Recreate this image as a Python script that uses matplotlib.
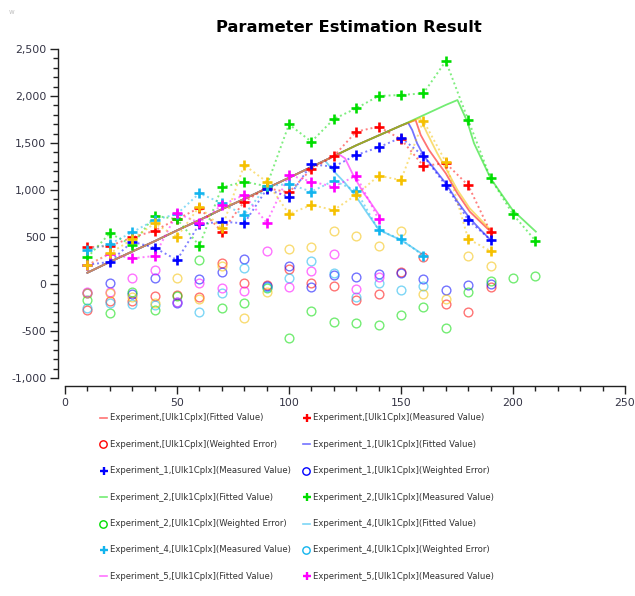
import matplotlib
matplotlib.use("Agg")
import matplotlib.pyplot as plt
from matplotlib.lines import Line2D
from matplotlib.ticker import MultipleLocator, FuncFormatter

# ---- sample times ---------------------------------------------------------
T19 = [10, 20, 30, 40, 50, 60, 70, 80, 90, 100, 110, 120, 130, 140, 150, 160, 170, 180, 190]
T21 = T19 + [200, 210]
T16 = T19[:16]
T14 = T19[:14]

# ---- measured values ------------------------------------------------------
meas_exp = [390, 405, 495, 567, 690, 810, 557, 876, 1020, 975, 1223, 1360, 1621, 1674, 1540, 1257, 1285, 1050, 550]
meas_exp1 = [205, 235, 450, 386, 255, 638, 663, 645, 1007, 929, 1273, 1248, 1372, 1454, 1557, 1362, 1050, 681, 468]
meas_exp2 = [284, 539, 415, 727, 690, 408, 1028, 1089, 1040, 1699, 1514, 1755, 1869, 2000, 2011, 2028, 2372, 1745, 1124, 741, 461]
meas_exp4 = [362, 425, 550, 681, 745, 965, 860, 734, 1040, 1064, 982, 1099, 992, 574, 475, 301]
meas_exp5 = [200, 320, 273, 298, 752, 652, 840, 947, 652, 1160, 1089, 1035, 1152, 688]
meas_exp3 = [202, 326, 475, 645, 503, 823, 592, 1266, 1089, 745, 840, 787, 947, 1152, 1106, 1737, 1298, 479, 351]

# ---- weighted errors ------------------------------------------------------
err_exp = [-275, -181, -177, -126, -120, -140, 227, 7, -11, 160, 14, -21, -170, -106, 131, 291, -213, -294, -35]
err_exp1 = [-95, 7, -110, 60, -200, 56, 124, 262, -21, 191, -35, 92, 78, 106, 120, 53, -64, -14, 0]
err_exp2 = [-170, -312, -82, -277, -128, 255, -252, -199, -45, -578, -284, -408, -418, -436, -330, -241, -472, -89, 35, 60, 88]
err_exp4 = [-258, -197, -213, -223, -190, -294, -92, 167, -30, 60, 248, 114, -135, 7, -64, -21]
err_exp5 = [-90, -82, 62, 149, -192, 14, -46, -71, 355, -35, 142, 316, -55, 71]
err_exp3 = [-95, -99, -135, -197, 60, -160, 191, -365, -82, 375, 397, 564, 511, 408, 564, -106, -160, 301, 195]

# ---- fitted curves: shared rising part, then each experiment's decline -----
rise_t = [10, 20, 30, 40, 50, 60, 70, 80, 90, 100, 110, 120, 130, 140, 150]
rise_v = [120, 235, 345, 455, 570, 680, 795, 905, 1018, 1130, 1245, 1360, 1475, 1580, 1685]

fit_exp_t = [156.5, 158.8, 162.5, 166.2, 170, 175.2, 180.7, 190]
fit_exp_v = [1745, 1585, 1426, 1301, 1177, 964, 770, 557]
fit_exp1_t = [153.2, 155, 157.2, 160.2, 164.7, 170, 175.2, 180.7, 185.6, 190]
fit_exp1_v = [1715, 1638, 1496, 1362, 1230, 1071, 876, 699, 574, 468]
fit_exp2_t = [160, 170, 175.2, 179.6, 182.6, 190, 199.8, 210.2]
fit_exp2_v = [1795, 1905, 1957, 1727, 1497, 1124, 787, 557]
fit_exp4_t = [116, 120, 125, 130, 135, 140, 145, 150, 155, 160.6]
fit_exp4_v = [1315, 1200, 1075, 929, 752, 580, 521, 468, 390, 301]
fit_exp5_t = [122, 125, 129, 133.4, 135.6, 140]
fit_exp5_v = [1385, 1337, 1142, 965, 894, 740]
fit_exp3_t = [158.5, 161.7, 166.2, 170, 175.2, 180.7, 190]
fit_exp3_v = [1765, 1603, 1390, 1230, 1000, 805, 574]

RED, BLUE, GREEN = "#ff0000", "#0000ff", "#00dd00"
CYAN, MAGENTA, GOLD = "#12b4ee", "#ff00ff", "#f5c000"


def fit_curve(tail_t, tail_v):
    start = tail_t[0]
    xs = [t for t in rise_t if t < start] + tail_t
    ys = [v for t, v in zip(rise_t, rise_v) if t < start] + tail_v
    return xs, ys


series = [
    ("Experiment", RED, fit_curve(fit_exp_t, fit_exp_v), T19, meas_exp, err_exp),
    ("Experiment_1", BLUE, fit_curve(fit_exp1_t, fit_exp1_v), T19, meas_exp1, err_exp1),
    ("Experiment_2", GREEN, fit_curve(fit_exp2_t, fit_exp2_v), T21, meas_exp2, err_exp2),
    ("Experiment_4", CYAN, fit_curve(fit_exp4_t, fit_exp4_v), T16, meas_exp4, err_exp4),
    ("Experiment_5", MAGENTA, fit_curve(fit_exp5_t, fit_exp5_v), T14, meas_exp5, err_exp5),
    ("Experiment_3", GOLD, fit_curve(fit_exp3_t, fit_exp3_v), T19, meas_exp3, err_exp3),
]

W, H = 635, 596
fig = plt.figure(figsize=(W / 100, H / 100), dpi=100)
ax = fig.add_axes([65 / W, 1 - 378 / H, 560 / W, 329 / H])

for name, col, (fx, fy), tx, mv, ev in series:
    ax.plot(fx, fy, color=col, lw=1.3, alpha=0.55, zorder=2)
    ax.plot(tx, mv, color=col, lw=1.4, ls=(0, (1, 1.5)), alpha=0.5, zorder=3)
    ax.plot(tx, mv, ls="none", marker="+", ms=7, mew=1.9, color=col, zorder=4)
    ax.plot(tx, ev, ls="none", marker="o", ms=6.3, mfc="none", mew=1.0,
            mec=col, alpha=0.55, zorder=3)

ax.set_xlim(0, 250)
ax.set_ylim(-1000, 2500)
for s in ("top", "right"):
    ax.spines[s].set_visible(False)
ax.spines["left"].set_position(("outward", 5.0))
ax.spines["bottom"].set_position(("outward", 5.8))
for s in ("left", "bottom"):
    ax.spines[s].set_color("#222222")
    ax.spines[s].set_linewidth(1.0)

ax.xaxis.set_major_locator(MultipleLocator(50))
ax.xaxis.set_minor_locator(MultipleLocator(10))
ax.yaxis.set_major_locator(MultipleLocator(500))
ax.yaxis.set_minor_locator(MultipleLocator(100))
ax.yaxis.set_major_formatter(FuncFormatter(lambda v, p: f"{int(round(v)):,}"))
ax.tick_params(which="major", length=5.8, width=1.0, color="#222222",
               labelsize=7.8, labelcolor="#333344", pad=2.5)
ax.tick_params(which="minor", length=3.4, width=1.0, color="#222222")

fig.text(349 / W, 1 - 28 / H, "Parameter Estimation Result", ha="center", va="center",
         fontsize=11.8, fontweight="bold", color="#000000")
fig.text(12 / W, 1 - 12 / H, "w", ha="center", va="center", fontsize=5, color="#c0c0c0")

# ---- legend (row-major, two columns) -------------------------------------
entries = []
for name, col, *_ in series[:5]:
    entries.append(("line", col, f"{name},[Ulk1Cplx](Fitted Value)"))
    entries.append(("plus", col, f"{name},[Ulk1Cplx](Measured Value)"))
    entries.append(("circle", col, f"{name},[Ulk1Cplx](Weighted Error)"))
entries = entries[:14]

col_x = [104, 307]
row_y0, row_dy = 418, 26.4
for i, (kind, col, label) in enumerate(entries):
    cx = col_x[i % 2]
    cy = row_y0 + (i // 2) * row_dy
    fy = 1 - cy / H
    if kind == "line":
        fig.add_artist(Line2D([(cx - 4) / W, (cx + 3) / W], [fy, fy], color=col,
                              lw=1.2, alpha=0.55, transform=fig.transFigure))
    elif kind == "plus":
        fig.add_artist(Line2D([cx / W], [fy], marker="+", ms=5.5, mew=1.7, color=col,
                              transform=fig.transFigure))
    else:
        fig.add_artist(Line2D([(cx - 1) / W], [fy], marker="o", ms=5.3, mfc="none", mew=1.0,
                              mec=col, transform=fig.transFigure))
    fig.text((cx + 6) / W, fy, label, ha="left", va="center", fontsize=6.1,
             color="#333333")

fig.savefig("out.png", dpi=100)
